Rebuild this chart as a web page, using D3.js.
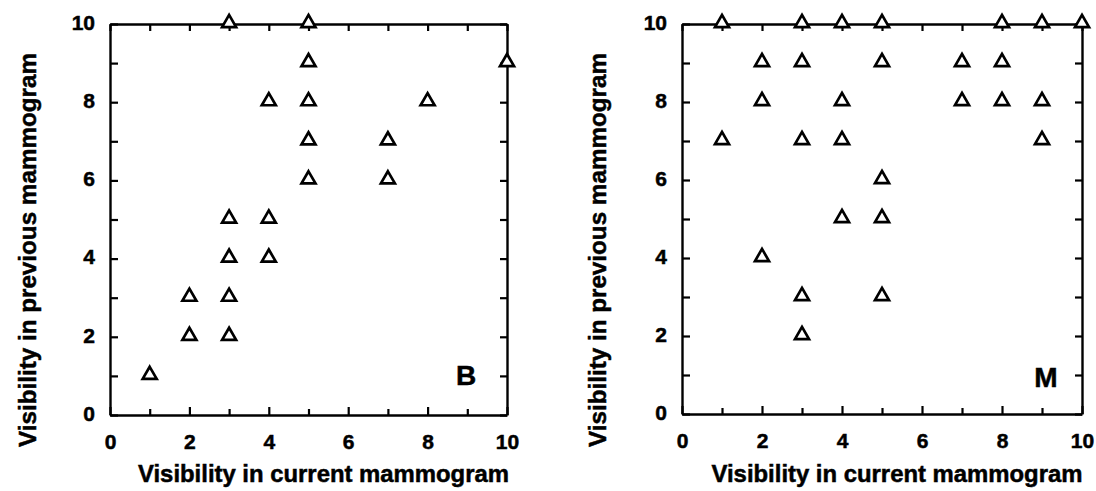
<!DOCTYPE html>
<html>
<head>
<meta charset="utf-8">
<script src="https://cdn.jsdelivr.net/npm/d3@7"></script>
<style>
  html, body { margin: 0; padding: 0; background: #fff; }
  svg { display: block; }
  text { font-family: "Liberation Sans", Arial, Helvetica, sans-serif; font-weight: bold; fill: #000; stroke: #000; stroke-width: 0.5px; }
</style>
</head>
<body>
<svg id="chart" width="1096" height="491"></svg>
<script>
// ---- Data ----
const tickValues = [0, 1, 2, 3, 4, 5, 6, 7, 8, 9, 10];
const tickLabels = ["0", "", "2", "", "4", "", "6", "", "8", "", "10"];
const xTitle = "Visibility in current mammogram";
const yTitle = "Visibility in previous mammogram";

// Panel B
const bCurrent  = [1, 2, 2, 3, 3, 3, 3, 3, 4, 4, 4, 5, 5, 5, 5, 5, 7, 7, 8, 10];
const bPrevious = [1, 2, 3, 2, 3, 4, 5, 10, 4, 5, 8, 6, 7, 8, 9, 10, 6, 7, 8, 9];

// Panel M
const mCurrent  = [1, 3, 4, 5, 8, 9, 10, 2, 3, 5, 7, 8, 2, 4, 7, 8, 9, 1, 3, 4, 9, 5, 4, 5, 2, 3, 5, 3];
const mPrevious = [10, 10, 10, 10, 10, 10, 10, 9, 9, 9, 9, 9, 8, 8, 8, 8, 8, 7, 7, 7, 7, 6, 5, 5, 4, 3, 3, 2];

const panels = [
  { label: "B", xs: bCurrent, ys: bPrevious, x0: 110, x1: 507, y0: 415, y1: 24, yTitleX: 36, labelX: 466, labelY: 385 },
  { label: "M", xs: mCurrent, ys: mPrevious, x0: 682, x1: 1082, y0: 414, y1: 24, yTitleX: 606, labelX: 1046, labelY: 387 }
];

const svg = d3.select("#chart");
const tri = d3.symbol().type(d3.symbolTriangle).size(85);

panels.forEach(p => {
  const g = svg.append("g");
  const x = d3.scaleLinear().domain([0, 10]).range([p.x0, p.x1]);
  const y = d3.scaleLinear().domain([0, 10]).range([p.y0, p.y1]);

  const styleAxis = sel => {
    sel.select(".domain").attr("stroke", "#000").attr("stroke-width", 2.4);
    sel.selectAll(".tick line").attr("stroke", "#000").attr("stroke-width", 2.2);
    sel.selectAll(".tick text").style("font-size", "21px").attr("fill", "#000")
       .style("font-family", '"Liberation Sans", Arial, Helvetica, sans-serif').style("font-weight", "bold");
  };

  // bottom axis
  const gb = g.append("g").attr("transform", `translate(0,${p.y0})`)
    .call(d3.axisBottom(x).tickValues(tickValues).tickSizeInner(-7).tickSizeOuter(0)
      .tickPadding(19).tickFormat((d, i) => tickLabels[i]));
  styleAxis(gb);
  gb.selectAll(".tick line").attr("y2", d => d % 2 === 0 ? -8 : -6);

  // top axis
  const gt = g.append("g").attr("transform", `translate(0,${p.y1})`)
    .call(d3.axisTop(x).tickValues(tickValues).tickSizeInner(-7).tickSizeOuter(0).tickFormat(""));
  styleAxis(gt);

  // left axis
  const gl = g.append("g").attr("transform", `translate(${p.x0},0)`)
    .call(d3.axisLeft(y).tickValues(tickValues).tickSizeInner(-8).tickSizeOuter(0)
      .tickPadding(15).tickFormat((d, i) => tickLabels[i]));
  styleAxis(gl);
  gl.selectAll(".tick text").attr("dy", "0.25em");

  // right axis
  const gr = g.append("g").attr("transform", `translate(${p.x1},0)`)
    .call(d3.axisRight(y).tickValues(tickValues).tickSizeInner(-7).tickSizeOuter(0).tickFormat(""));
  styleAxis(gr);

  // points
  g.append("g").selectAll("path")
    .data(p.xs.map((v, i) => [v, p.ys[i]]))
    .join("path")
    .attr("d", tri)
    .attr("transform", d => `translate(${x(d[0])},${y(d[1]) - 1})`)
    .attr("fill", "#fff")
    .attr("stroke", "#000")
    .attr("stroke-width", 2.7)
    .attr("stroke-linejoin", "miter");

  // panel letter
  g.append("text")
    .attr("x", p.labelX).attr("y", p.labelY)
    .attr("text-anchor", "middle")
    .style("font-size", "28px")
    .text(p.label);

  // x title
  g.append("text")
    .attr("x", (p.x0 + p.x1) / 2 + 15).attr("y", 482)
    .attr("text-anchor", "middle")
    .style("font-size", "24px")
    .attr("textLength", 371).attr("lengthAdjust", "spacingAndGlyphs")
    .text(xTitle);

  // y title
  g.append("text")
    .attr("transform", `translate(${p.yTitleX},250) rotate(-90)`)
    .attr("text-anchor", "middle")
    .style("font-size", "24px")
    .attr("textLength", 394).attr("lengthAdjust", "spacingAndGlyphs")
    .text(yTitle);
});
</script>
</body>
</html>
